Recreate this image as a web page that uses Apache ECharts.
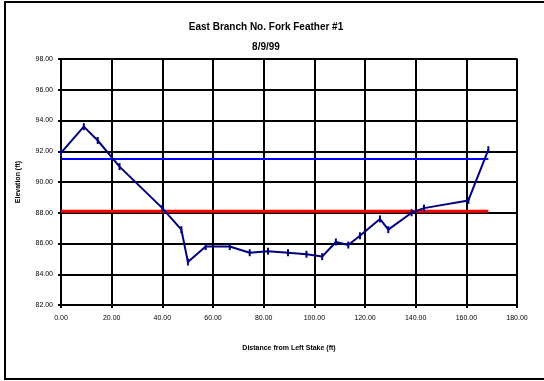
<!DOCTYPE html>
<html><head><meta charset="utf-8">
<script src="https://cdn.jsdelivr.net/npm/echarts@6/dist/echarts.min.js"></script>
<style>html,body{margin:0;padding:0;background:#fff}#c{width:544px;height:381px}</style>
</head><body><div id="c"></div>
<script>
const titleText = "East Branch No. Fork Feather #1";
const subtitleText = "8/9/99";
const xName = "Distance from Left Stake (ft)";
const yName = "Elevation (ft)";
const distance = [0, 9.0, 14.5, 23.1, 40.0, 47.5, 50.1, 57.1, 66.6, 74.5, 81.7, 89.6, 96.9, 103.1, 108.5, 113.4, 118.0, 125.9, 129.2, 138.4, 143.3, 160.8, 168.7];
const elevation = [91.9, 93.6, 92.7, 91.0, 88.3, 86.9, 84.8, 85.8, 85.8, 85.4, 85.5, 85.4, 85.3, 85.15, 86.1, 85.9, 86.5, 87.6, 86.9, 88.0, 88.3, 88.8, 92.1];
const blueLineX = [0, 168.7];
const blueLineY = [91.5, 91.5];
const redLineX = [0, 168.7];
const redLineY = [88.1, 88.1];

const chart = echarts.init(document.getElementById('c'));
const font = '"Liberation Sans", Arial, sans-serif';
const zip = (a, b) => a.map((v, i) => [v, b[i]]);
chart.setOption({
  animation: false,
  backgroundColor: '#fff',
  graphic: [
    {type: 'rect', shape: {x: 5, y: 2, width: 545, height: 377}, style: {fill: 'none', stroke: '#000', lineWidth: 2}, silent: true},
    {type: 'text', x: 266, y: 22, style: {text: titleText, font: 'bold 10px ' + font, fill: '#000', align: 'center', verticalAlign: 'top'}, z: 10},
    {type: 'text', x: 266, y: 42, style: {text: subtitleText, font: 'bold 10px ' + font, fill: '#000', align: 'center', verticalAlign: 'top'}, z: 10}
  ],
  grid: {left: 61, right: 27, top: 59, bottom: 76, show: true, borderColor: '#808080', borderWidth: 2},
  xAxis: {
    type: 'value', min: 0, max: 180, interval: 20,
    name: xName, nameLocation: 'middle', nameGap: 40,
    nameTextStyle: {fontFamily: font, fontSize: 7, fontWeight: 'bold', color: '#000'},
    axisLine: {lineStyle: {color: '#000', width: 2}},
    axisTick: {show: true, length: 3, lineStyle: {color: '#000', width: 2}},
    axisLabel: {fontFamily: font, fontSize: 7, color: '#000', margin: 10, formatter: v => v.toFixed(2)},
    splitLine: {show: true, lineStyle: {color: '#000', width: 2}}
  },
  yAxis: {
    type: 'value', min: 82, max: 98, interval: 2,
    name: yName, nameLocation: 'middle', nameGap: 39, nameRotate: 90,
    nameTextStyle: {fontFamily: font, fontSize: 7, fontWeight: 'bold', color: '#000'},
    axisLine: {show: true, lineStyle: {color: '#000', width: 2}},
    axisTick: {show: true, length: 3, lineStyle: {color: '#000', width: 2}},
    axisLabel: {fontFamily: font, fontSize: 7, color: '#000', margin: 8, formatter: v => v.toFixed(2)},
    splitLine: {show: true, lineStyle: {color: '#000', width: 2}}
  },
  series: [
    {type: 'line', data: zip(blueLineX, blueLineY), showSymbol: false, lineStyle: {color: '#0000ff', width: 2}, z: 3},
    {type: 'line', data: zip(redLineX, redLineY), showSymbol: false, lineStyle: {color: '#ff0000', width: 3}, z: 3},
    {type: 'line', data: zip(distance, elevation), symbol: 'rect', symbolSize: [2, 7],
     itemStyle: {color: '#000080'}, lineStyle: {color: '#000080', width: 2}, z: 4}
  ]
});
</script></body></html>
